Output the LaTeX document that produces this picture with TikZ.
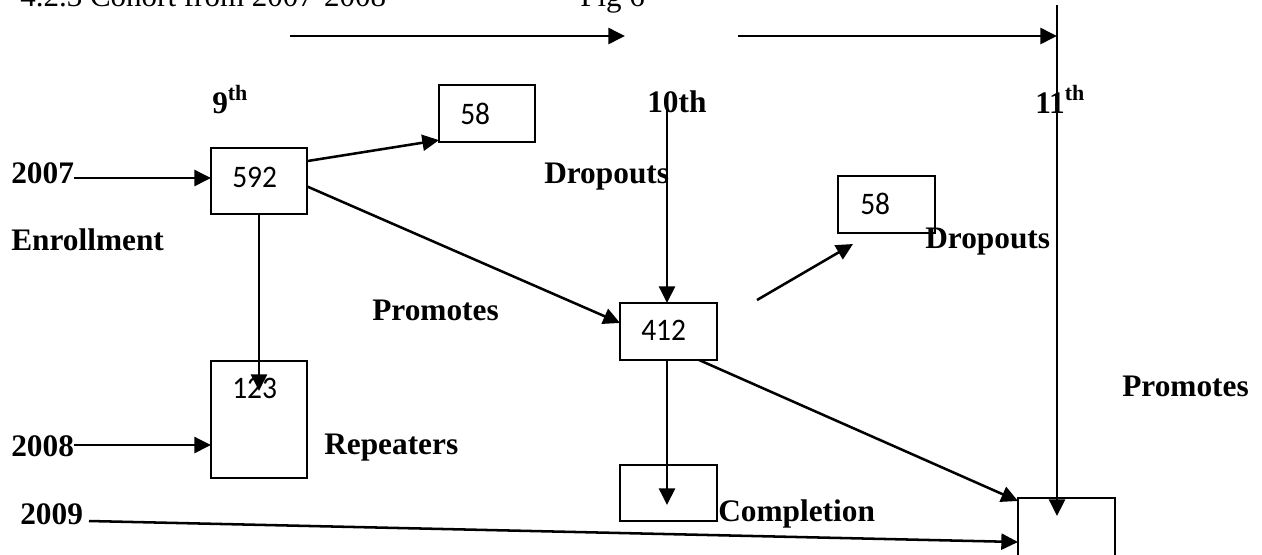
\documentclass[tikz,border=0pt]{standalone}
\usepackage{fontspec}
\setmainfont{Liberation Serif}
\newfontfamily\numfont[FakeStretch=0.94]{Carlito}
\usetikzlibrary{arrows.meta,calc}
\begin{document}
\begin{tikzpicture}[x=0.75pt,y=-0.75pt,
  box/.style={draw,line width=1.5pt,inner sep=0pt,outer sep=0pt},
  title/.style={font=\fontsize{23.25}{28}\selectfont,inner sep=0pt,anchor=base west},
  lbl/.style={font=\fontsize{23.5}{28}\selectfont\bfseries,inner sep=0pt,anchor=base west},
  num/.style={font=\numfont\fontsize{23.5}{28}\selectfont,inner sep=0pt,anchor=base west},
  arr/.style={line width=1.9pt,-{Triangle[length=12.5pt,width=12pt]}}]
\useasboundingbox (0,0) rectangle (1262,554);
\clip (0,0) rectangle (1262,554);

% heading line
\node[title] (head) at (20,6) {4.2.3 Cohort from 2007-2008};
\node[title] (fig) at (580,6) {Fig 6};

% grade labels
\node[lbl] (g9)  at (212,113) {9\textsuperscript{th}};
\node[lbl] (g10) at (647,112) {10th};
\node[lbl] (g11) at (1035,113) {11\textsuperscript{th}};

% year and flow labels
\node[lbl] (y2007) at (11,183) {2007};
\node[lbl] (enr)   at (11,250) {Enrollment};
\node[lbl] (y2008) at (11,456) {2008};
\node[lbl] (y2009) at (20,524) {2009};
\node[lbl] (drop1) at (544,183) {Dropouts};
\node[lbl] (drop2) at (925,248) {Dropouts};
\node[lbl] (prom1) at (372,320) {Promotes};
\node[lbl] (prom2) at (1122,396) {Promotes};
\node[lbl] (rep)   at (324,454) {Repeaters};
\node[lbl] (comp)  at (718,521) {Completion};

% boxes
\node[box,minimum width=72pt,minimum height=42.75pt] (b58a)  at (487,113.5) {};
\node[box,minimum width=72pt,minimum height=49.5pt]  (b592)  at (259,180.5) {};
\node[box,minimum width=72pt,minimum height=87.75pt] (b123)  at (259,419.5) {};
\node[box,minimum width=72.75pt,minimum height=42.75pt] (b412) at (668.5,331.5) {};
\node[box,minimum width=72.75pt,minimum height=42.75pt] (b58b) at (886.5,204.5) {};
\node[box,minimum width=72.75pt,minimum height=42pt] (bcomp) at (668.5,493) {};
\node[box,minimum width=72.75pt,minimum height=76.5pt] (bfin) at (1066.5,549) {};

% numbers in the boxes
\node[num] (n58a) at (460,124) {58};
\node[num] (n592) at (232,187) {592};
\node[num] (n123) at (232,398) {123};
\node[num] (n412) at (641,340) {412};
\node[num] (n58b) at (860,214) {58};

% free ends of connectors
\coordinate (a1s) at (290,36);
\coordinate (a1e) at (625,36);
\coordinate (a2s) at (738,36);
\coordinate (top11) at (1057,5);
\coordinate (top10) at (667,109);
\coordinate (r2007) at (74,178);
\coordinate (r2008) at (74,445);
\coordinate (r2009) at (89,521);
\coordinate (t2009) at (1018,542);
\coordinate (in123) at (259,391);
\coordinate (incomp) at (667,505);
\coordinate (infin) at (1057,516);
\coordinate (d2s) at (757,300);
\coordinate (d2e) at (853,244);

% timeline arrows
\draw[arr] (a1s) -- (a1e);
\draw[arr] (a2s) -- (a2s -| top11);
\draw[arr] (top11) -- (infin);

% flows
\draw[arr] (r2007) -- (r2007 -| b592.west);
\draw[arr] (r2008) -- (r2008 -| b123.west);
\draw[arr] (r2009) -- (t2009);
\draw[arr] (b592.22) -- (b58a.209);
\draw[arr] (b592.-7) -- (b412.170);
\draw[arr] (b592.south) -- (in123);
\draw[arr] (top10) -- (top10 |- b412.north);
\draw[arr] (b412.south -| incomp) -- (incomp);
\draw[arr] (b412.-43) -- ($(bfin.north west)+(0,3)$);
\draw[arr] (d2s) -- (d2e);
\end{tikzpicture}
\end{document}
